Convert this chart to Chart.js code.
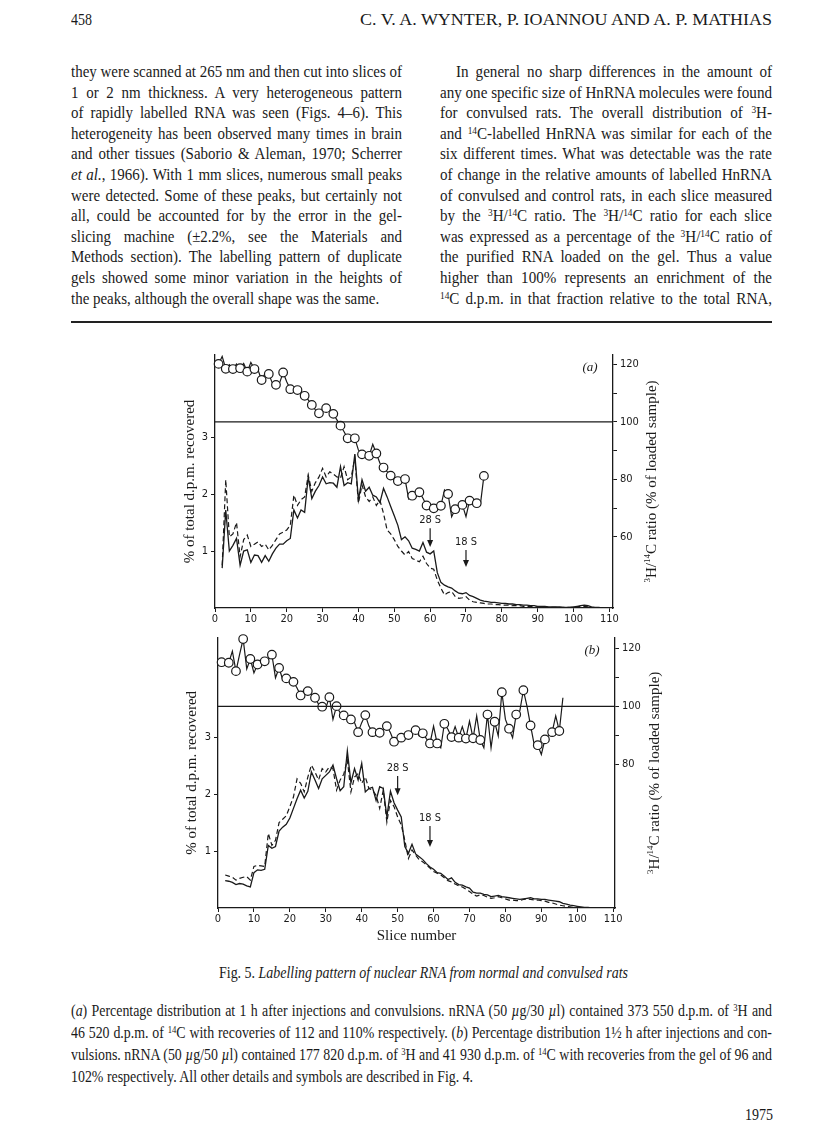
<!DOCTYPE html>
<html>
<head>
<meta charset="utf-8">
<title>Fig. 5 – Labelling pattern of nuclear RNA</title>
<script src="https://cdn.jsdelivr.net/npm/chart.js@4.4.1/dist/chart.umd.min.js"></script>
<style>
  html, body { margin: 0; padding: 0; background: #fff; }
  #page { position: relative; width: 816px; height: 1136px; overflow: hidden;
          font-family: "Liberation Serif", "DejaVu Serif", serif; color: #1a1a1a; }
  .blk { position: absolute; transform-origin: 0 0; }
  .blk > div { white-space: nowrap; text-align: justify; text-align-last: justify; }
  .blk > div.last { text-align-last: left; }
  .body { font-size: 16px; line-height: 20.6px; }
  .cap { font-size: 16px; line-height: 22px; }
  .sup { font-size: 0.62em; vertical-align: 0.5em; line-height: 0; }
  .rule { position: absolute; left: 71px; top: 321px; width: 701px; height: 2px; background: #222; }
  canvas { position: absolute; }
</style>
</head>
<body>
<div id="page">
  <div class="blk body" data-w="21" style="left:71px; top:10px;"><div class="last">458</div></div>
  <div class="blk body" data-w="412" style="left:360px; top:10px;"><div class="last">C. V. A. WYNTER, P. IOANNOU AND A. P. MATHIAS</div></div>

  <div class="blk body" data-w="331" style="left:71px; top:62px;">
    <div>they were scanned at 265 nm and then cut into slices of</div>
    <div>1 or 2 nm thickness. A very heterogeneous pattern</div>
    <div>of rapidly labelled RNA was seen (Figs. 4–6). This</div>
    <div>heterogeneity has been observed many times in brain</div>
    <div>and other tissues (Saborio &amp; Aleman, 1970; Scherrer</div>
    <div><i>et al.</i>, 1966). With 1 mm slices, numerous small peaks</div>
    <div>were detected. Some of these peaks, but certainly not</div>
    <div>all, could be accounted for by the error in the gel-</div>
    <div>slicing machine (±2.2%, see the Materials and</div>
    <div>Methods section). The labelling pattern of duplicate</div>
    <div>gels showed some minor variation in the heights of</div>
    <div class="last">the peaks, although the overall shape was the same.</div>
  </div>

  <div class="blk body" data-w="332" style="left:440px; top:62px;">
    <div data-indent="16">In general no sharp differences in the amount of</div>
    <div>any one specific size of HnRNA molecules were found</div>
    <div>for convulsed rats. The overall distribution of <span class="sup">3</span>H-</div>
    <div>and <span class="sup">14</span>C-labelled HnRNA was similar for each of the</div>
    <div>six different times. What was detectable was the rate</div>
    <div>of change in the relative amounts of labelled HnRNA</div>
    <div>of convulsed and control rats, in each slice measured</div>
    <div>by the <span class="sup">3</span>H/<span class="sup">14</span>C ratio. The <span class="sup">3</span>H/<span class="sup">14</span>C ratio for each slice</div>
    <div>was expressed as a percentage of the <span class="sup">3</span>H/<span class="sup">14</span>C ratio of</div>
    <div>the purified RNA loaded on the gel. Thus a value</div>
    <div>higher than 100% represents an enrichment of the</div>
    <div><span class="sup">14</span>C d.p.m. in that fraction relative to the total RNA,</div>
  </div>

  <div class="rule"></div>

  <canvas id="panelA" width="540" height="290" style="left:150px; top:345px;"></canvas>
  <canvas id="panelB" width="540" height="319" style="left:150px; top:628px;"></canvas>

  <div class="blk cap" data-w="409" style="left:219px; top:962px;"><div class="last">Fig. 5. <i>Labelling pattern of nuclear RNA from normal and convulsed rats</i></div></div>

  <div class="blk cap" data-w="701" style="left:71px; top:1000px;">
    <div>(<i>a</i>) Percentage distribution at 1 h after injections and convulsions. nRNA (50 <i>µ</i>g/30 <i>µ</i>l) contained 373 550 d.p.m. of <span class="sup">3</span>H and</div>
    <div>46 520 d.p.m. of <span class="sup">14</span>C with recoveries of 112 and 110% respectively. (<i>b</i>) Percentage distribution 1½ h after injections and con-</div>
    <div>vulsions. nRNA (50 <i>µ</i>g/50 <i>µ</i>l) contained 177 820 d.p.m. of <span class="sup">3</span>H and 41 930 d.p.m. of <span class="sup">14</span>C with recoveries from the gel of 96 and</div>
    <div class="last">102% respectively. All other details and symbols are described in Fig. 4.</div>
  </div>

  <div class="blk body" data-w="28" style="left:745px; top:1105px;"><div class="last">1975</div></div>
</div>

<script>
"use strict";

// shared axis ticks
const X_MIN = 0;
const X_TICKS = [0, 10, 20, 30, 40, 50, 60, 70, 80, 90, 100, 110];
const LEFT_TICKS = [1, 2, 3];
const RIGHT_TICKS_A = [60, 70, 80, 90, 100, 110, 120];
const RIGHT_TICKS_B = [80, 90, 100, 110, 120];
const RIGHT_LABELS = [60, 80, 100, 120];
const REF_RATIO = 100;

// panel (a): 3H/14C ratio from slice 1, d.p.m. curves from slice 2
const ratioA = [
  120.2, 122.8, 118.5, 119.9, 118.4, 120.2, 118.7, 120.4, 117.5, 120.7,
  118.4, 118.1, 114.6, 117.0, 116.7, 113.5, 112.9, 113.5, 117.2, 114.0,
  111.4, 110.6, 111.1, 110.2, 109.1, 107.7, 105.9, 104.2, 103.0, 104.2,
  104.8, 104.2, 102.8, 100.7, 98.7, 96.6, 94.3, 94.3, 94.3, 90.2,
  88.7, 88.2, 88.2, 92.2, 89.0, 85.6, 84.1, 82.7, 81.3, 79.8,
  79.4, 80.4, 80.1, 73.2, 74.3, 75.1, 75.5, 73.4, 70.9, 70.5,
  69.9, 69.3, 70.8, 76.3, 74.9, 67.0, 69.6, 71.1, 71.1, 67.0,
  72.6, 72.6, 71.7, 71.1, 81.2
];
const solidA = [
  0.7, 1.72, 1.0, 1.1, 1.22, 0.75, 1.0, 1.02, 0.8, 0.93,
  0.92, 0.8, 0.92, 0.82, 0.95, 1.05, 1.12, 1.12, 1.18, 1.22,
  1.72, 1.58, 1.72, 1.68, 2.3, 1.92, 2.05, 2.15, 2.3, 2.18,
  2.2, 2.19, 2.12, 2.48, 2.15, 2.2, 2.18, 2.7, 1.9, 2.25,
  2.05, 2.12, 1.98, 1.95, 1.85, 2.1, 1.95, 1.78, 1.62, 1.45,
  1.2, 1.25, 1.18, 1.05, 1.03, 1.0, 1.15, 0.98, 0.95, 1.0,
  0.62, 0.45, 0.4, 0.37, 0.35, 0.3, 0.26, 0.25, 0.27, 0.22,
  0.2, 0.17, 0.14, 0.12, 0.11, 0.1, 0.1, 0.09, 0.08, 0.08,
  0.07, 0.07, 0.06, 0.06, 0.05, 0.05, 0.04, 0.04, 0.03, 0.03,
  0.03, 0.02, 0.02, 0.02, 0.02, 0.01, 0.01, 0.01, 0.02, 0.03,
  0.04, 0.05, 0.04, 0.02, 0.01, 0.01, 0.0
];
const dashedA = [
  0.75, 2.25, 1.25, 1.3, 1.5, 0.9, 1.2, 1.28, 1.08, 1.12,
  1.16, 1.08, 1.12, 1.02, 1.1, 1.2, 1.3, 1.33, 1.37, 1.45,
  1.98, 1.8, 1.9, 1.95, 2.33, 2.05, 2.2, 2.3, 2.45, 2.3,
  2.39, 2.35, 2.3, 2.28, 2.48, 2.25, 2.3, 2.63, 1.84, 2.16,
  1.95, 1.87, 1.95, 1.8, 1.89, 1.66, 1.37, 1.3, 1.2, 1.08,
  1.0, 0.93, 0.99, 0.87, 0.84, 0.81, 0.91, 0.78, 0.7, 0.68,
  0.49, 0.35, 0.23, 0.27, 0.29, 0.2, 0.17, 0.18, 0.2, 0.14,
  0.11, 0.1, 0.09, 0.08, 0.07, 0.07, 0.06, 0.06, 0.05, 0.05,
  0.05, 0.04, 0.04, 0.04, 0.03, 0.03, 0.03, 0.02, 0.02, 0.02,
  0.02, 0.01, 0.01, 0.01, 0.01, 0.01, 0.01, 0.01, 0.01, 0.02,
  0.03, 0.03, 0.02, 0.01, 0.0, 0.0, 0.0
];
const markersA = [
  { label: "28 S", slice: 60, text: 1.54, tip: 1.07 },
  { label: "18 S", slice: 70, text: 1.16, tip: 0.72 }
];

// panel (b)
const ratioB = [
  115.3, 114.5, 115.1, 119.1, 112.2, 117.9, 123.3, 113.0, 116.4, 111.6,
  114.5, 115.6, 115.6, 116.2, 117.9, 109.9, 113.3, 109.3, 109.7, 108.2,
  108.5, 106.4, 103.8, 105.9, 105.3, 104.1, 103.0, 100.7, 99.9, 99.5,
  103.2, 95.5, 100.1, 97.8, 96.9, 96.1, 95.5, 94.4, 91.1, 94.4,
  97.0, 93.2, 91.1, 90.3, 90.9, 92.1, 93.2, 90.9, 87.8, 88.0,
  89.2, 89.5, 90.1, 91.1, 91.8, 89.8, 90.7, 88.9, 87.2, 93.2,
  87.2, 85.7, 94.0, 92.1, 89.4, 93.0, 89.2, 93.0, 88.9, 94.9,
  89.0, 96.7, 88.4, 85.7, 97.2, 85.7, 94.7, 89.8, 104.9, 95.5,
  92.3, 89.2, 97.2, 98.4, 105.6, 100.1, 93.4, 86.9, 86.6, 83.4,
  88.6, 89.8, 91.1, 96.7, 91.5, 103.0
];
const solidB = [
  0.48, 0.47, 0.45, 0.41, 0.43, 0.42, 0.39, 0.37, 0.62, 0.67,
  0.66, 0.68, 1.1, 1.05, 1.08, 1.35, 1.42, 1.47, 1.58, 1.75,
  1.92, 2.07, 1.93, 2.05, 2.39, 2.25, 2.1, 2.27, 2.33, 2.39,
  2.51, 2.27, 2.06, 2.13, 2.76, 2.2, 2.45, 2.25, 2.54, 2.04,
  2.1, 2.12, 1.89, 2.13, 2.1, 1.6, 2.05, 1.85, 1.72, 1.6,
  1.08, 0.96, 1.12, 0.95, 0.9, 0.85, 0.78, 0.72, 0.68, 0.62,
  0.61, 0.56, 0.5, 0.53, 0.45, 0.41, 0.4, 0.37, 0.35, 0.28,
  0.26, 0.26, 0.24, 0.23, 0.2, 0.21, 0.22, 0.2, 0.19, 0.18,
  0.17, 0.16, 0.15, 0.16, 0.17, 0.18, 0.16, 0.16, 0.15, 0.15,
  0.14, 0.13, 0.12, 0.11, 0.08, 0.07, 0.05, 0.04, 0.03, 0.02,
  0.01, 0.01, 0.0, 0.0
];
const dashedB = [
  0.58, 0.56, 0.54, 0.49, 0.52, 0.54, 0.55, 0.49, 0.73, 0.75,
  0.74, 0.73, 1.31, 1.1, 1.19, 1.5, 1.56, 1.62, 1.78, 1.95,
  2.27, 2.19, 2.04, 2.3, 2.51, 2.39, 2.25, 2.45, 2.39, 2.48,
  2.45, 2.07, 2.25, 2.35, 2.6, 2.04, 2.3, 2.36, 2.19, 2.3,
  2.1, 2.07, 1.98, 1.75, 2.07, 1.51, 1.89, 1.78, 1.6, 1.46,
  1.19, 0.87, 1.02, 0.93, 0.85, 0.81, 0.76, 0.7, 0.64, 0.61,
  0.58, 0.53, 0.48, 0.46, 0.42, 0.39, 0.37, 0.33, 0.29, 0.24,
  0.21, 0.23, 0.22, 0.19, 0.17, 0.18, 0.2, 0.18, 0.16, 0.14,
  0.14, 0.13, 0.13, 0.15, 0.16, 0.15, 0.14, 0.14, 0.13, 0.12,
  0.1, 0.09, 0.07, 0.05, 0.04, 0.03, 0.02, 0.01, 0.01, 0.0
];
const markersB = [
  { label: "28 S", slice: 50, text: 2.46, tip: 1.98 },
  { label: "18 S", slice: 59, text: 1.58, tip: 1.07 }
];

const INK = "#1a1a1a";
const TICK_FONT = { family: '"DejaVu Sans Condensed", "DejaVu Sans", sans-serif', size: 11 };
const SERIF = '"Liberation Serif", "DejaVu Serif", serif';

// squeeze each text block horizontally so the widest line fills the column, justify the rest
document.querySelectorAll(".blk").forEach(blk => {
  const W = parseFloat(blk.dataset.w);
  const lines = Array.from(blk.children);
  lines.forEach(l => { l.style.width = "max-content"; });
  const nat = lines.map(l => l.getBoundingClientRect().width);
  let s = Infinity;
  lines.forEach((l, i) => { s = Math.min(s, (W - (parseFloat(l.dataset.indent) || 0)) / nat[i]); });
  lines.forEach(l => {
    const ind = parseFloat(l.dataset.indent) || 0;
    l.style.marginLeft = (ind / s) + "px";
    l.style.width = ((W - ind) / s) + "px";
  });
  blk.style.transform = "scaleX(" + s + ")";
});

function drawRich(ctx, parts, x, y, size) {
  ctx.save();
  ctx.translate(x, y);
  ctx.rotate(-Math.PI / 2);
  const fontOf = p => (p.sup ? Math.round(size * 0.62) : size) + "px " + SERIF;
  let total = 0;
  parts.forEach(p => { ctx.font = fontOf(p); total += ctx.measureText(p.t).width; });
  let cx = -total / 2;
  ctx.textAlign = "left";
  ctx.textBaseline = "middle";
  parts.forEach(p => {
    ctx.font = fontOf(p);
    ctx.fillText(p.t, cx, p.sup ? -size * 0.32 : 0);
    cx += ctx.measureText(p.t).width;
  });
  ctx.restore();
}

const decor = {
  id: "decor",
  afterDraw(chart, args, o) {
    const { ctx, chartArea: a, scales } = chart;
    const cy = (a.top + a.bottom) / 2;
    ctx.save();
    ctx.fillStyle = INK;
    ctx.strokeStyle = INK;
    ctx.lineWidth = 1.2;
    drawRich(ctx, [{ t: "% of total d.p.m. recovered" }], o.leftTitleX, cy, 15);
    drawRich(ctx, [{ t: "3", sup: true }, { t: "H/" }, { t: "14", sup: true }, { t: "C ratio (% of loaded sample)" }], o.rightTitleX, cy, 15);

    ctx.font = "italic 13px " + SERIF;
    ctx.textAlign = "center";
    ctx.textBaseline = "middle";
    ctx.fillText(o.letter, a.right - 23, a.top + 13);

    ctx.font = "11px " + TICK_FONT.family;
    o.markers.forEach(m => {
      const x = scales.x.getPixelForValue(m.slice);
      const yt = scales.y.getPixelForValue(m.text);
      const tip = scales.y.getPixelForValue(m.tip);
      ctx.fillText(m.label, x, yt);
      ctx.beginPath();
      ctx.moveTo(x, yt + 8);
      ctx.lineTo(x, tip - 5);
      ctx.stroke();
      ctx.beginPath();
      ctx.moveTo(x, tip);
      ctx.lineTo(x - 3, tip - 7);
      ctx.lineTo(x + 3, tip - 7);
      ctx.closePath();
      ctx.fill();
    });
    ctx.restore();
  }
};

const pts = (first, vals) => vals.map((v, i) => ({ x: first + i, y: v }));
const fixedTicks = list => s => { s.ticks = list.map(v => ({ value: v })); };
const axisGrid = { drawOnChartArea: false, tickLength: 4, color: INK, lineWidth: 1 };
const axisBorder = { color: INK, width: 1.3 };

function makePanel(id, p) {
  return new Chart(document.getElementById(id), {
    type: "line",
    data: {
      datasets: [
        { data: [{ x: X_MIN, y: REF_RATIO }, { x: p.xMax, y: REF_RATIO }], yAxisID: "y1",
          borderColor: INK, borderWidth: 1.3, pointRadius: 0 },
        { data: pts(1, p.ratio), yAxisID: "y1", borderColor: INK, borderWidth: 1.2, clip: 8,
          pointRadius: c => (c.raw && c.raw.x % 2 === 1 ? 4.3 : 0),
          pointBackgroundColor: "#fff", pointBorderColor: INK, pointBorderWidth: 1.2 },
        { data: pts(2, p.solid), yAxisID: "y", borderColor: INK, borderWidth: 1.3, pointRadius: 0 },
        { data: pts(2, p.dashed), yAxisID: "y", borderColor: INK, borderWidth: 1.2, borderDash: [5, 3], pointRadius: 0 }
      ]
    },
    options: {
      responsive: false,
      animation: false,
      devicePixelRatio: 1,
      layout: { padding: { top: p.padTop, left: 0, right: 0, bottom: 0 } },
      plugins: { legend: { display: false }, tooltip: { enabled: false }, decor: p.decor },
      scales: {
        x: {
          type: "linear", min: X_MIN, max: p.xMax,
          afterBuildTicks: fixedTicks(X_TICKS),
          afterFit: s => { s.height = p.bottomH; },
          ticks: { color: INK, font: TICK_FONT, padding: 1, maxRotation: 0, autoSkip: false },
          grid: axisGrid, border: axisBorder,
          title: { display: !!p.xTitle, text: p.xTitle || "", color: INK,
                   font: { family: SERIF, size: 15 }, padding: { top: 0, bottom: 2 } }
        },
        y: {
          position: "left", min: 0, max: p.yMax,
          afterBuildTicks: fixedTicks(LEFT_TICKS),
          afterFit: s => { s.width = p.leftW; },
          ticks: { color: INK, font: TICK_FONT, padding: 3 },
          grid: axisGrid, border: axisBorder
        },
        y1: {
          position: "right", min: p.rMin, max: p.rMax,
          afterBuildTicks: fixedTicks(p.rightTicks),
          afterFit: s => { s.width = p.rightW; },
          ticks: { color: INK, font: TICK_FONT, padding: 3,
                   callback: v => (RIGHT_LABELS.includes(v) ? v : "") },
          grid: axisGrid, border: axisBorder
        }
      }
    },
    plugins: [decor]
  });
}

makePanel("panelA", {
  ratio: ratioA, solid: solidA, dashed: dashedA,
  xMax: 111, yMax: 4.44, rMin: 35.2, rMax: 123.3, rightTicks: RIGHT_TICKS_A,
  padTop: 10, leftW: 65, rightW: 77, bottomH: 27,
  decor: { letter: "(a)", markers: markersA, leftTitleX: 40, rightTitleX: 502 }
});

makePanel("panelB", {
  ratio: ratioB, solid: solidB, dashed: dashedB,
  xMax: 110.5, yMax: 4.75, rMin: 30.3, rMax: 123.8, rightTicks: RIGHT_TICKS_B,
  padTop: 9, leftW: 68, rightW: 75, bottomH: 39, xTitle: "Slice number",
  decor: { letter: "(b)", markers: markersB, leftTitleX: 42, rightTitleX: 505 }
});
</script>
</body>
</html>
